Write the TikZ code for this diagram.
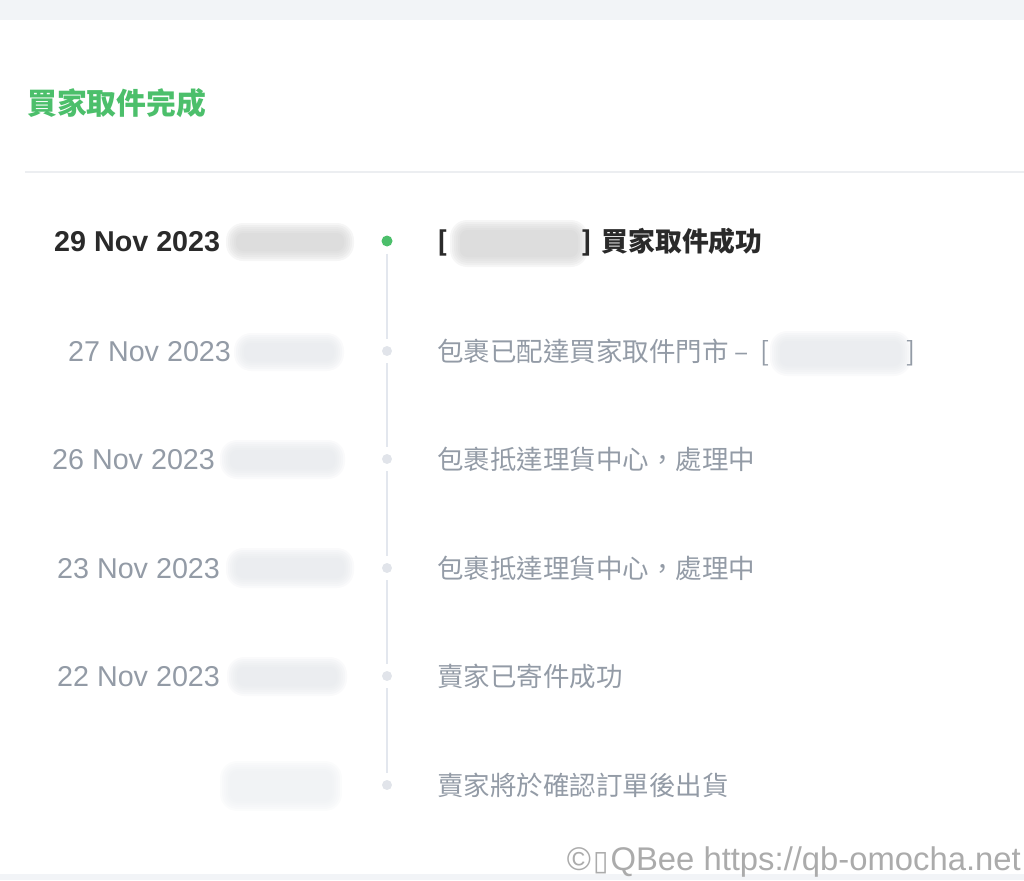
\documentclass[tikz,border=0pt]{standalone}
\usepackage{fontspec}
\setmainfont{Liberation Sans}
\newfontfamily\cjk{Noto Sans CJK TC}
\newfontfamily\symfont{DejaVu Sans}
\usetikzlibrary{positioning}

\definecolor{pickgreen}{HTML}{4CBF6B}
\definecolor{inkdark}{HTML}{2A2A2A}
\definecolor{inkgray}{HTML}{939BA6}
\definecolor{railgray}{HTML}{E3E7EE}
\definecolor{dotgray}{HTML}{E1E4EA}
\definecolor{bandgray}{HTML}{F2F4F7}
\definecolor{rulegray}{HTML}{ECEEF1}
\definecolor{smudgedark}{HTML}{CFCFCF}
\definecolor{smudgelight}{HTML}{E2E5E9}
\definecolor{smudgefaint}{HTML}{EBEEF1}
\definecolor{markgray}{HTML}{ABABAB}

% soft blurred patch: x, y, width, height, colour
\newcommand{\smudge}[5]{%
  \foreach \k in {0,2,...,10}{
    \fill[#5, opacity=0.18, rounded corners={17pt-\k pt}]
      ({#1+\k},{#2+\k}) rectangle ++({#3-2*\k},{#4-2*\k});
  }}

\begin{document}
\begin{tikzpicture}[x=1pt, y=-1pt,
  datetext/.style={anchor=base west, inner sep=0pt, font=\fontsize{28.7}{30}\selectfont, text=inkgray},
  eventtext/.style={anchor=base west, inner sep=0pt, font=\cjk\fontsize{26.5}{30}\selectfont, text=inkgray},
  stepdot/.style={circle, fill=dotgray, minimum size=10pt, inner sep=0pt, outer sep=7pt},
  rail/.style={draw=railgray, line width=2pt}]

  \useasboundingbox (0,0) rectangle (1024,880);

  % page bands and header rule
  \fill[bandgray] (0,0) rectangle (1024,20);
  \fill[bandgray] (0,874) rectangle (1024,880);
  \draw[rulegray, line width=2pt] (25,172) -- (1024,172);

  % heading
  \node[anchor=base west, inner sep=0pt, font=\cjk\bfseries\fontsize{29.8}{32}\selectfont,
    text=pickgreen] (head) at (27,114) {買家取件完成};

  % redacted times and store names
  \smudge{226}{223}{128}{38}{smudgedark}
  \smudge{234}{333}{110}{38}{smudgelight}
  \smudge{220}{440}{125}{39}{smudgelight}
  \smudge{226}{548}{128}{40}{smudgelight}
  \smudge{227}{657}{120}{39}{smudgelight}
  \smudge{220}{761}{122}{50}{smudgefaint}
  \smudge{450}{220}{138}{47}{smudgedark}
  \smudge{770}{331}{141}{45}{smudgelight}

  % timeline dots
  \node[stepdot, fill=pickgreen, minimum size=11pt] (p1) at (387,241) {};
  \node[stepdot] (p2) at (387,351) {};
  \node[stepdot] (p3) at (387,459) {};
  \node[stepdot] (p4) at (387,568) {};
  \node[stepdot] (p5) at (387,676) {};
  \node[stepdot] (p6) at (387,785) {};
  \draw[rail] (p1) -- (p2) -- (p3) -- (p4) -- (p5) -- (p6);

  % dates
  \node[datetext, text=inkdark, font=\bfseries\fontsize{28.7}{30}\selectfont] (d29) at (54,251) {29 Nov 2023};
  \node[datetext] (d27) at (68,361) {27 Nov 2023};
  \node[datetext] (d26) at (52,469) {26 Nov 2023};
  \node[datetext] (d23) at (57,578) {23 Nov 2023};
  \node[datetext] (d22) at (57,686) {22 Nov 2023};

  % events
  \node[eventtext, text=inkdark, font=\cjk\bfseries\fontsize{26.8}{30}\selectfont] (e1) at (437,251)
    {[\hspace*{134pt}]\hspace*{3pt} 買家取件成功};
  \node[eventtext] (e2) at (437,361) {包裹已配達買家取件門市\hspace*{6pt}–\hspace*{12pt}[\hspace*{137pt}]};
  \node[eventtext] (e3) at (437,469) {包裹抵達理貨中心，處理中};
  \node[eventtext] (e4) at (437,578) {包裹抵達理貨中心，處理中};
  \node[eventtext] (e5) at (437,686) {賣家已寄件成功};
  \node[eventtext] (e6) at (437,795) {賣家將於確認訂單後出貨};

  % watermark
  \node[anchor=base east, inner sep=0pt, font=\fontsize{32.8}{34}\selectfont, text=markgray] (mark)
    at (1021,870) {©\hspace*{2pt}{\symfont\fontsize{28}{28}\selectfont ▯}\hspace*{2pt}QBee https://qb-omocha.net};
\end{tikzpicture}
\end{document}
